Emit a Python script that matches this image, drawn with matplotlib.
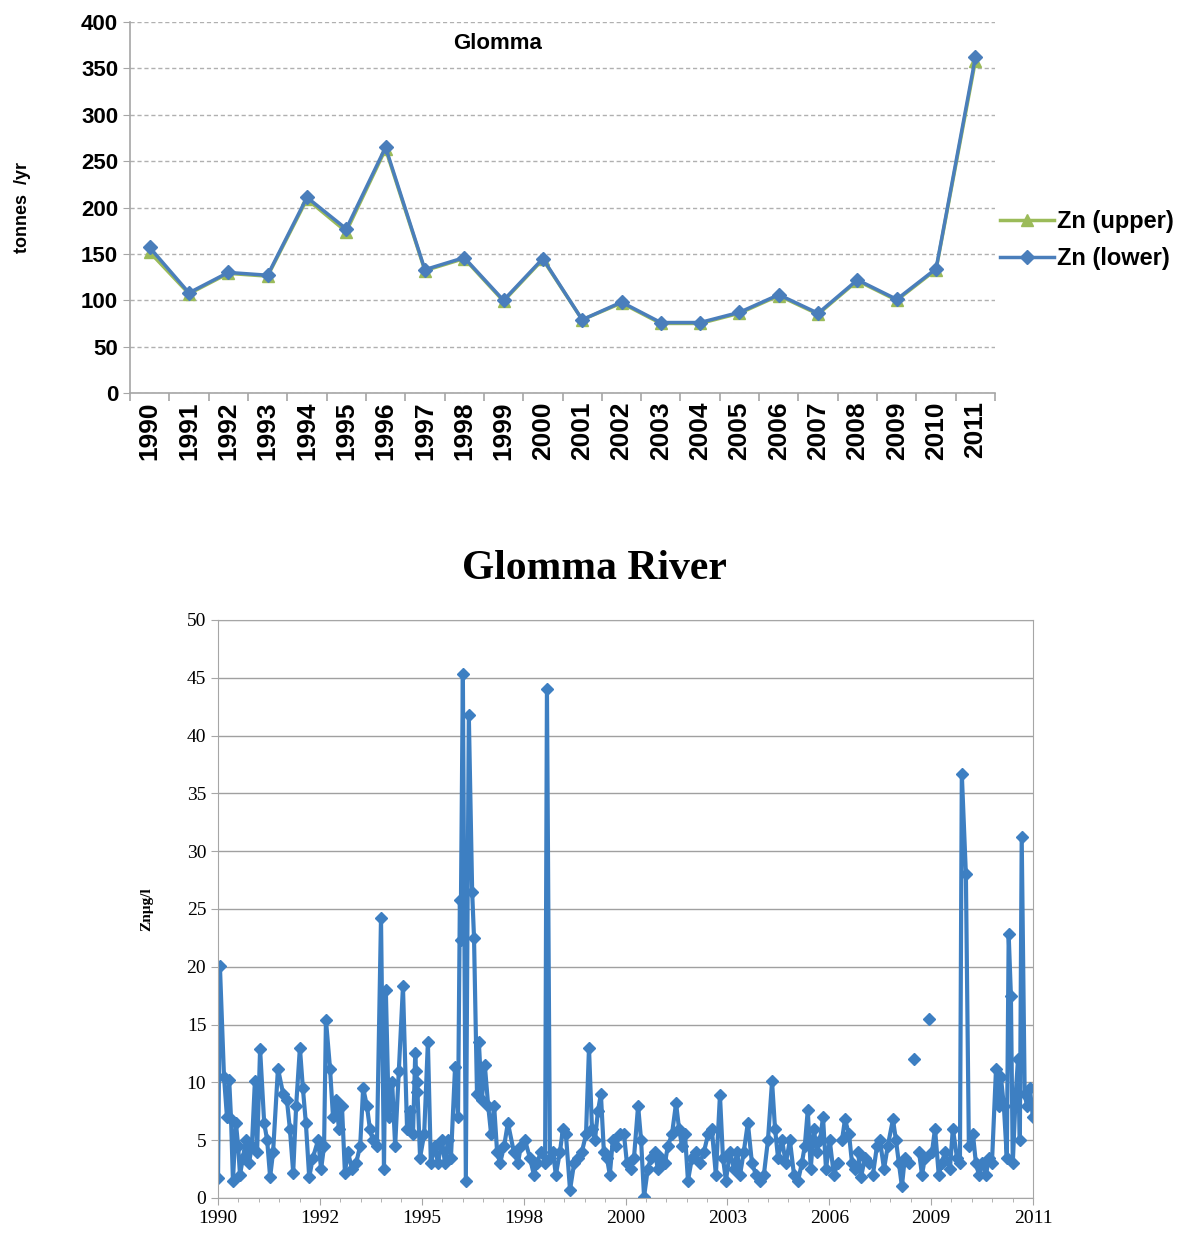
import numpy as np
import matplotlib
matplotlib.use('Agg')
import matplotlib.pyplot as plt
from matplotlib.ticker import FixedLocator

# annual Zn load, Glomma (tonnes/yr)
years = [str(y) for y in range(1990, 2012)]
zn_lower = [157, 108, 130, 127, 211, 177, 265, 133, 146, 100, 145,
            79, 98, 76, 76, 87, 106, 86, 122, 101, 134, 362]
zn_upper = [152, 107, 129, 126, 209, 174, 263, 132, 145, 99, 144,
            79, 97, 75, 75, 86, 105, 85, 121, 100, 133, 358]

# Glomma River Zn concentrations (ug/l), sample date as decimal year
nan = np.nan
sample_date = [
    1990.00, 1990.05, 1990.16, 1990.24, 1990.30, 1990.35, 1990.40, 1990.48, 1990.54, 1990.59,
    1990.67, 1990.75, 1990.83, 1990.91, 1990.99, 1991.05, 1991.13, 1991.24, 1991.32, 1991.40,
    1991.48, 1991.61, 1991.75, 1991.85, 1991.93, 1992.02, 1992.10, 1992.20, 1992.28, 1992.36,
    1992.45, 1992.55, 1992.69, 1992.77, 1992.85, 1992.90, 1993.01, 1993.09, 1993.17, 1993.25,
    1993.33, 1993.41, 1993.49, 1993.60, 1993.71, 1993.82, 1993.90, 1994.00, 1994.08, 1994.16,
    1994.27, 1994.38, 1994.46, 1994.51, 1994.59, 1994.68, 1994.76, 1994.86, 1994.97, 1995.08,
    1995.16, 1995.24, 1995.30, 1995.32, 1995.34, 1995.36, 1995.43, 1995.54, 1995.64, 1995.72,
    1995.83, 1995.91, 1996.02, 1996.10, 1996.18, 1996.26, 1996.37, 1996.45, 1996.50, 1996.52,
    1996.58, 1996.66, 1996.74, 1996.83, 1996.88, 1996.96, 1997.01, 1997.09, 1997.17, 1997.26,
    1997.34, 1997.42, 1997.50, 1997.58, 1997.69, 1997.79, 1997.95, 1998.06, 1998.14, 1998.25,
    1998.38, 1998.49, 1998.57, 1998.68, 1998.79, 1998.84, 1998.92, 1999.00, 1999.08, 1999.19,
    1999.27, 1999.35, 1999.46, 1999.57, 1999.67, 1999.78, 1999.89, 1999.97, 2000.05, 2000.13,
    2000.21, 2000.29, 2000.37, 2000.45, 2000.53, 2000.61, 2000.69, 2000.80, 2000.91, 2000.99,
    2001.10, 2001.18, 2001.29, 2001.37, 2001.45, 2001.55, 2001.64, 2001.74, 2001.82, 2001.90,
    2002.01, 2002.09, 2002.20, 2002.31, 2002.39, 2002.47, 2002.55, 2002.63, 2002.74, 2002.84,
    2002.95, 2003.06, 2003.17, 2003.27, 2003.38, 2003.49, 2003.57, 2003.65, 2003.76, 2003.87,
    2003.95, 2004.03, 2004.13, 2004.24, 2004.35, 2004.46, 2004.56, 2004.67, 2004.78, 2004.89,
    2004.97, 2005.05, 2005.16, 2005.26, 2005.37, 2005.48, 2005.59, 2005.69, 2005.77, 2005.85,
    2005.93, 2006.01, 2006.10, 2006.18, 2006.26, 2006.34, 2006.44, 2006.55, 2006.66, 2006.72,
    2006.77, 2006.85, 2006.96, 2007.04, 2007.12, 2007.16, 2007.20, 2007.28, 2007.39, 2007.49,
    2007.55, 2007.60, 2007.71, 2007.75, 2007.79, 2007.90, 2008.00, 2008.14, 2008.22, 2008.30,
    2008.38, 2008.46, 2008.57, 2008.64, 2008.70, 2008.77, 2008.84, 2008.92, 2009.00, 2009.05,
    2009.11, 2009.15, 2009.19, 2009.27, 2009.37, 2009.45, 2009.54, 2009.67, 2009.75, 2009.86,
    2009.94, 2009.99, 2010.10, 2010.18, 2010.29, 2010.37, 2010.45, 2010.53, 2010.64, 2010.72,
    2010.80, 2010.91, 2010.99, 2011.04, 2011.12, 2011.20, 2011.25, 2011.31, 2011.36, 2011.44,
    2011.50, 2011.55, 2011.60, 2011.68, 2011.74, 2011.82, 2011.90,
]
zn_conc = [
    1.7, 20.1, 10.5, 7.0, 10.2, 6.8, 1.5, 6.5, 4.5, 2.0,
    3.5, 5.0, 3.0, 4.5, 10.1, 4.0, 12.9, 6.5, 5.0, 1.8,
    4.0, 11.2, 9.0, 8.5, 6.0, 2.2, 8.0, 13.0, 9.5, 6.5,
    1.8, 3.5, 5.0, 2.5, 4.5, 15.4, 11.2, 7.0, 8.5, 6.0,
    8.0, 2.2, 4.0, 2.5, 3.0, 4.5, 9.5, 8.0, 6.0, 5.0,
    4.5, 24.2, 2.5, 18.0, 7.0, 10.0, 4.5, 11.0, 18.3, 6.0,
    7.5, 5.5, 12.5, 11.0, 10.0, 9.2, 3.5, 5.5, 13.5, 3.0,
    4.5, 3.0, 5.0, 3.0, 5.0, 3.5, 11.3, 7.0, 25.8, 22.3,
    45.3, 1.5, 41.8, 26.5, 22.5, 9.0, 13.5, 8.5, 11.5, 8.0,
    5.5, 8.0, 4.0, 3.0, 4.5, 6.5, 4.0, 3.0, 4.5, 5.0,
    3.5, 2.0, 3.0, 4.0, 3.0, 44.0, 3.5, 4.0, 2.0, 4.0,
    6.0, 5.5, 0.7, 3.0, 3.5, 4.0, 5.5, 13.0, 6.0, 5.0,
    7.5, 9.0, 4.0, 3.5, 2.0, 5.0, 4.5, 5.5, 5.5, 3.0,
    2.5, 3.5, 8.0, 5.0, 0.1, 2.5, 3.5, 4.0, 2.5, 3.5,
    3.0, 4.5, 5.5, 8.2, 6.0, 4.5, 5.5, 1.5, 3.5, 4.0,
    3.0, 4.0, 5.5, 6.0, 2.0, 8.9, 3.5, 1.5, 4.0, 2.5,
    4.0, 2.0, 4.0, 6.5, 3.0, 2.0, 1.5, 2.0, 5.0, 10.1,
    6.0, 3.5, 5.0, 3.0, 5.0, 2.0, 1.5, 3.0, 4.5, 7.6,
    2.5, 6.0, 4.0, 5.0, 7.0, 2.5, 5.0, 2.0, 3.0, nan,
    5.0, 6.8, 5.5, 3.0, 2.5, nan, 4.0, 1.8, 3.5, 3.0,
    nan, 2.0, 4.5, nan, 5.0, 2.5, 4.5, 6.8, 5.0, 3.0,
    1.0, 3.5, 3.0, nan, 12.0, nan, 4.0, 2.0, 3.5, nan,
    15.5, nan, 4.0, 6.0, 2.0, 3.0, 4.0, 2.5, 6.0, 3.5,
    3.0, 36.7, 28.0, 4.5, 5.5, 3.0, 2.0, 3.0, 2.0, 3.5,
    3.0, 11.2, 8.0, 10.5, 8.0, 3.5, 22.8, 17.5, 3.0, 9.0,
    12.0, 5.0, 31.2, 9.0, 8.0, 9.5, 7.0,
]
# Excel date axis: major unit of 1000 days from Jan 1990
axis_labels = ['1990', '1992', '1995', '1998', '2000', '2003', '2006', '2009', '2011']

blue = '#4a7ebb'
green = '#9bbb59'
gray = '#a6a6a6'

fig = plt.figure(figsize=(11.85, 12.39), dpi=100)

# ---- top: annual loads ----
ax1 = fig.add_axes([0.1097, 0.6828, 0.7300, 0.2994])
x = np.arange(len(years))
ax1.plot(x, zn_upper, color=green, lw=2.5, marker='^', ms=9, label='Zn (upper)')
ax1.plot(x, zn_lower, color=blue, lw=2.5, marker='D', ms=7, label='Zn (lower)')
ax1.set_xlim(-0.5, len(years) - 0.5)
ax1.set_ylim(0, 400)
ax1.set_yticks(range(0, 401, 50))
ax1.set_xticks(x)
ax1.set_xticklabels(years, rotation=90, fontsize=19, fontweight='bold', family='Liberation Sans')
ax1.xaxis.set_minor_locator(FixedLocator(np.arange(-0.5, len(years), 1)))
ax1.tick_params(axis='x', which='major', length=0, pad=6)
ax1.tick_params(axis='x', which='minor', length=6, color=gray, width=1.2)
ax1.tick_params(axis='y', length=5, color=gray, labelsize=16)
for lab in ax1.get_yticklabels():
    lab.set_fontweight('bold')
    lab.set_family('Liberation Sans')
ax1.grid(axis='y', color='#b0b0b0', ls=(0, (3, 2)), lw=1)
ax1.set_axisbelow(True)
for s in ['top', 'right']:
    ax1.spines[s].set_visible(False)
ax1.spines['left'].set_color(gray)
ax1.spines['bottom'].set_color(gray)
ax1.spines['left'].set_linewidth(1.2)
ax1.spines['bottom'].set_linewidth(1.2)
ax1.set_ylabel('tonnes  /yr', fontsize=13, fontweight='bold', family='Liberation Sans', labelpad=36)
ax1.text(0.425, 0.943, 'Glomma', transform=ax1.transAxes, ha='center', va='center',
         fontsize=16, fontweight='bold', family='Liberation Sans')
fig.legend(loc='center left', bbox_to_anchor=(0.836, 0.806), frameon=False,
           prop={'family': 'Liberation Sans', 'weight': 'bold', 'size': 17},
           handlelength=2.3, handletextpad=0.1, labelspacing=0.6, borderaxespad=0)

# ---- bottom: concentrations ----
ax2 = fig.add_axes([0.1840, 0.0331, 0.6877, 0.4665])
ax2.plot(sample_date, zn_conc, color='#3d7fc2', lw=3, marker='D', ms=6.5)
x0 = 1990.0
step = 1000 / 365.25
ax2.set_xlim(x0, x0 + 8 * step)
ax2.set_ylim(0, 50)
ax2.set_yticks(range(0, 51, 5))
ax2.set_xticks([x0 + k * step for k in range(9)])
ax2.set_xticklabels(axis_labels)
ax2.xaxis.set_minor_locator(FixedLocator([x0 + k * step / 5 for k in range(41)]))
ax2.tick_params(axis='both', which='major', labelsize=14, color=gray, length=5)
ax2.tick_params(axis='x', which='minor', color=gray, length=3)
for lab in ax2.get_xticklabels() + ax2.get_yticklabels():
    lab.set_family('Liberation Serif')
ax2.grid(axis='y', color='#a0a0a0', lw=1)
ax2.set_axisbelow(True)
for s in ax2.spines.values():
    s.set_color(gray)
ax2.set_ylabel('Znµg/l', fontsize=11, fontweight='bold', family='Liberation Serif', labelpad=24)
fig.text(0.502, 0.541, 'Glomma River', ha='center', va='center',
         fontsize=30, fontweight='bold', family='Liberation Serif')

fig.savefig('out.png', dpi=100)
